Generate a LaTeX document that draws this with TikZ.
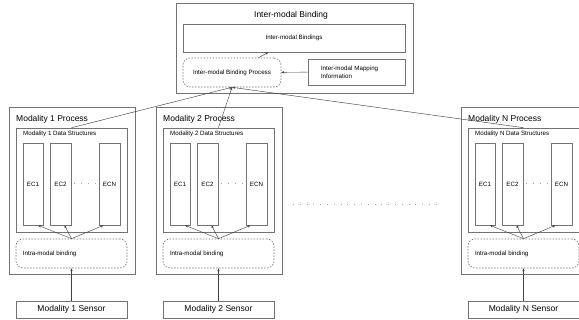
\documentclass[tikz,border=0pt]{standalone}
\usepackage{fontspec}
\setmainfont{Liberation Sans}
\usetikzlibrary{arrows.meta}

\tikzset{
	box/.style={draw=black!55, line width=0.6pt, inner sep=0pt, font=\fontsize{6.2}{7.6}\selectfont},
	dbox/.style={box, dash pattern=on 1.5pt off 1.5pt, rounded corners=7pt},
	head/.style={inner sep=0pt, anchor=west, font=\fontsize{8.5}{10}\selectfont},
	small/.style={inner sep=0pt, anchor=west, font=\fontsize{6.2}{7.6}\selectfont},
	link/.style={-{Stealth[length=3pt,width=2.4pt]}, line width=0.45pt, draw=black!75},
	dots/.style={draw=black!35, line width=1pt, dash pattern=on 1pt off 5.8pt},
}

\begin{document}
\begin{tikzpicture}[x=1pt,y=-1pt]
	\useasboundingbox (0,0) rectangle (579,320);
	
	% inter-modal binding
	\node[box, minimum width=237pt, minimum height=90pt] (imb) at (294.5,48) {};
	\node[head, anchor=center] (imbtitle) at (291,15) {Inter-modal Binding};
	\node[box, minimum width=222pt, minimum height=28pt] (bindings) at (294,38) {Inter-modal Bindings};
	\node[dbox, minimum width=98pt, minimum height=29pt] (bproc) at (232,72.5) {Inter-modal Binding Process};
	\node[box, minimum height=26pt, text width=71pt, inner xsep=13pt, align=left] (mapinfo) at (356.5,72) {Inter-modal Mapping\\Information};
	
	\draw[link] (bproc) -- (bindings);
	\draw[link] (mapinfo) -- (bproc);
	
	% modality 1
	\node[box, minimum width=126pt, minimum height=167pt] (proc1) at (72,190.5) {};
	\node[head] (proc1title) at (16,119) {Modality 1 Process};
	\node[box, minimum width=111pt, minimum height=104pt] (data1) at (71.5,180) {};
	\node[small] (data1title) at (23,133.5) {Modality 1 Data Structures};
	\node[box, minimum width=20pt, minimum height=82pt] (ec11) at (33,184) {EC1};
	\node[box, minimum width=21pt, minimum height=82pt] (ec12) at (60.5,184) {EC2};
	\node[box, minimum width=21pt, minimum height=82pt] (ec1n) at (109.5,184) {ECN};
	\node[dbox, minimum height=29pt, text width=97pt, inner xsep=7pt, align=left] (intra1) at (71.5,253.5) {Intra-modal binding};
	\node[box, font=\fontsize{8.5}{10}\selectfont, minimum width=111pt, minimum height=17pt] (sensor1) at (71.5,309.5) {Modality 1 Sensor};
	
	\draw[dots] ([xshift=3pt]ec12.east) -- ([xshift=-2pt]ec1n.west);
	\draw[link] (intra1.north) -- ([xshift=5pt]ec11.south);
	\draw[link] (intra1.north) -- ([xshift=4pt]ec12.south);
	\draw[link] (intra1.north) -- ([xshift=-6pt]ec1n.south);
	\draw[link] (sensor1) -- (intra1);
	\draw[link] (data1.north) -- (bproc.south);
	
	% modality 2
	\node[box, minimum width=126pt, minimum height=167pt] (proc2) at (219,190.5) {};
	\node[head] (proc2title) at (163,119) {Modality 2 Process};
	\node[box, minimum width=111pt, minimum height=104pt] (data2) at (218.5,180) {};
	\node[small] (data2title) at (170,133.5) {Modality 2 Data Structures};
	\node[box, minimum width=20pt, minimum height=82pt] (ec21) at (180,184) {EC1};
	\node[box, minimum width=21pt, minimum height=82pt] (ec22) at (207.5,184) {EC2};
	\node[box, minimum width=21pt, minimum height=82pt] (ec2n) at (256.5,184) {ECN};
	\node[dbox, minimum height=29pt, text width=97pt, inner xsep=7pt, align=left] (intra2) at (218.5,253.5) {Intra-modal binding};
	\node[box, font=\fontsize{8.5}{10}\selectfont, minimum width=111pt, minimum height=17pt] (sensor2) at (218.5,309.5) {Modality 2 Sensor};
	
	\draw[dots] ([xshift=3pt]ec22.east) -- ([xshift=-2pt]ec2n.west);
	\draw[link] (intra2.north) -- ([xshift=5pt]ec21.south);
	\draw[link] (intra2.north) -- ([xshift=4pt]ec22.south);
	\draw[link] (intra2.north) -- ([xshift=-6pt]ec2n.south);
	\draw[link] (sensor2) -- (intra2);
	\draw[link] (data2.north) -- (bproc.south);
	
	% modality N
	\node[box, minimum width=126pt, minimum height=167pt] (procn) at (524,190.5) {};
	\node[head] (procntitle) at (468,119) {Modality N Process};
	\node[box, minimum width=111pt, minimum height=104pt] (datan) at (523.5,180) {};
	\node[small] (datantitle) at (475,133.5) {Modality N Data Structures};
	\node[box, minimum width=20pt, minimum height=82pt] (ecn1) at (485,184) {EC1};
	\node[box, minimum width=21pt, minimum height=82pt] (ecn2) at (512.5,184) {EC2};
	\node[box, minimum width=21pt, minimum height=82pt] (ecnn) at (561.5,184) {ECN};
	\node[dbox, minimum height=29pt, text width=97pt, inner xsep=7pt, align=left] (intran) at (523.5,253.5) {Intra-modal binding};
	\node[box, font=\fontsize{8.5}{10}\selectfont, minimum width=111pt, minimum height=17pt] (sensorn) at (523.5,309.5) {Modality N Sensor};
	
	\draw[dots] ([xshift=3pt]ecn2.east) -- ([xshift=-2pt]ecnn.west);
	\draw[link] (intran.north) -- ([xshift=5pt]ecn1.south);
	\draw[link] (intran.north) -- ([xshift=4pt]ecn2.south);
	\draw[link] (intran.north) -- ([xshift=-6pt]ecnn.south);
	\draw[link] (sensorn) -- (intran);
	\draw[link] (datan.north) -- (bproc.south);
	
	% gap between modalities
	\coordinate (gapl) at (293,205);
	\coordinate (gapr) at (442,205);
	\draw[dots] (gapl) -- (gapr);
	
\end{tikzpicture}
\end{document}
